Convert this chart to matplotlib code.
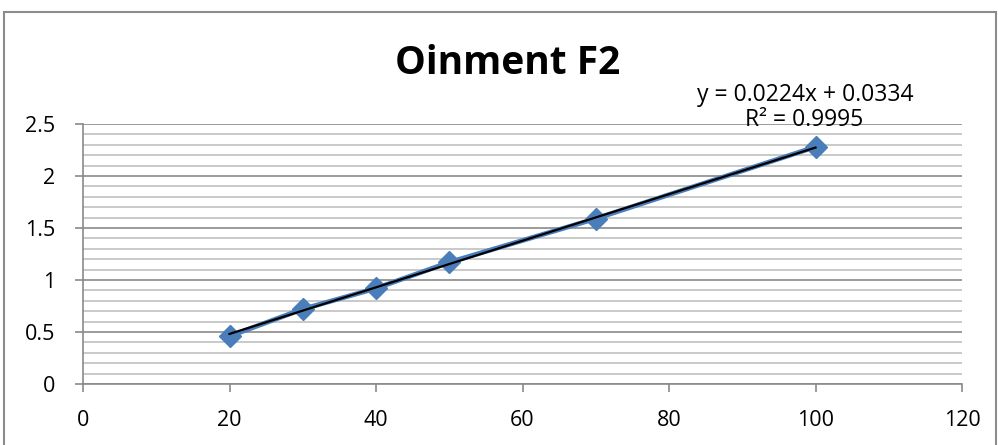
import numpy as np
import matplotlib.pyplot as plt
from matplotlib.patches import Rectangle

# data
conc = [20, 30, 40, 50, 70, 100]
absorb = [0.46, 0.72, 0.92, 1.17, 1.59, 2.28]
slope, intercept = 0.0224, 0.0334
x_ticks = [0, 20, 40, 60, 80, 100, 120]
y_ticks = [0, 0.5, 1, 1.5, 2, 2.5]
y_tick_labels = ['0', '0.5', '1', '1.5', '2', '2.5']

plt.rcParams['font.family'] = ['Open Sans', 'DejaVu Sans']

fig = plt.figure(figsize=(9.98, 4.45), dpi=100)
ax = fig.add_axes([83 / 998, 1 - 384 / 445, 879 / 998, 260 / 445])

# outer chart border
fig.patches.append(Rectangle((4 / 998, -0.05), 992 / 998, 1 - 12 / 445 + 0.05,
                             transform=fig.transFigure, fill=False,
                             edgecolor='#8c8c8c', linewidth=1.5))

ax.set_xlim(0, 120)
ax.set_ylim(0, 2.5)
ax.set_xticks(x_ticks)
ax.set_yticks(y_ticks)
ax.set_yticklabels(y_tick_labels)
ax.set_yticks(np.arange(0, 2.5, 0.1), minor=True)
ax.grid(True, which='major', axis='y', color='#8a8a8a', linewidth=1.2)
ax.grid(True, which='minor', axis='y', color='#c0c0c0', linewidth=1.2)
ax.set_axisbelow(True)
for s in ['top', 'right']:
    ax.spines[s].set_visible(False)
for s in ['left', 'bottom']:
    ax.spines[s].set_color('#8a8a8a')
    ax.spines[s].set_linewidth(1.2)
ax.tick_params(axis='both', which='major', direction='out', length=6,
               color='#8a8a8a', width=1.2, labelsize=15.5)
ax.tick_params(axis='y', which='minor', length=0)
ax.tick_params(axis='x', pad=13)
ax.tick_params(axis='y', pad=14)

ax.plot(conc, absorb, color='#4a7ebb', linewidth=3.5, marker='D',
        markersize=11, markeredgecolor='#4a7ebb', zorder=3)
fit_x = np.array([conc[0], conc[-1]])
ax.plot(fit_x, slope * fit_x + intercept, color='black', linewidth=1.6, zorder=4)

fig.text(508 / 998, 1 - 64 / 445, 'Oinment F2', ha='center', va='center',
         fontsize=28, fontweight='bold')
fig.text(805 / 998, 1 - 95 / 445, 'y = 0.0224x + 0.0334', ha='center',
         va='center', fontsize=16.5)
fig.text(804 / 998, 1 - 120 / 445, 'R² = 0.9995', ha='center',
         va='center', fontsize=16.5)

fig.savefig('out.png', dpi=100)
